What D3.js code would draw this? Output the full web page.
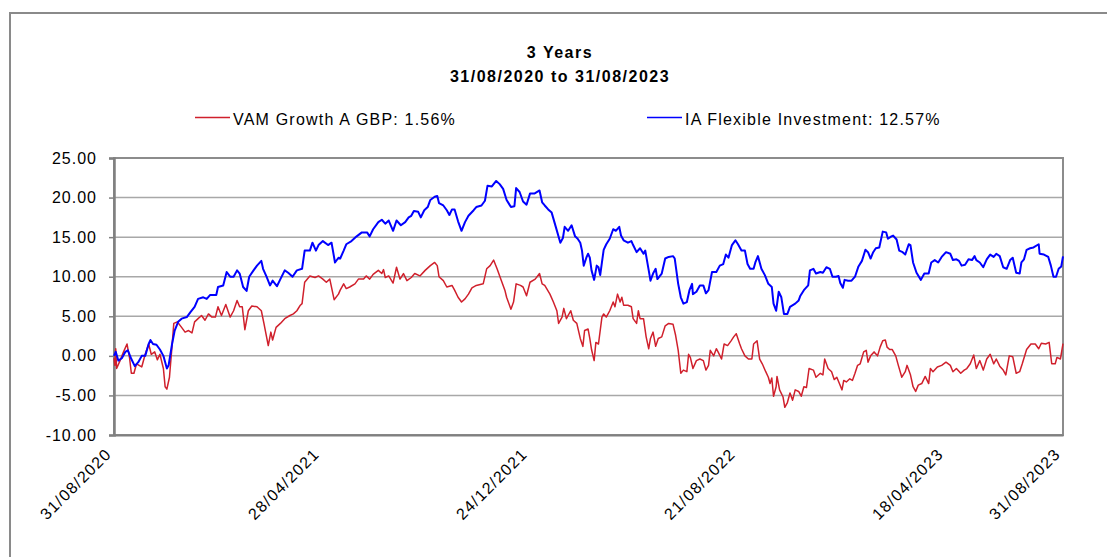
<!DOCTYPE html>
<html>
<head>
<meta charset="utf-8">
<script src="https://cdn.jsdelivr.net/npm/d3@7"></script>
<style>
  html, body { margin: 0; padding: 0; background: #fff; }
  svg { display: block; font-family: "Liberation Sans", Arial, sans-serif; }
</style>
</head>
<body>
<svg id="chart" width="1107" height="557"></svg>
<script>
// ---------------- DATA ----------------
const titleLines = ["3 Years", "31/08/2020 to 31/08/2023"];
const startDate = "31/08/2020";
const endDate = "31/08/2023";
const seriesNames = ["VAM Growth A GBP: 1.56%", "IA Flexible Investment: 12.57%"];
const seriesColors = ["#d0202c", "#0000ff"];
const xTickLabels = ["31/08/2020", "28/04/2021", "24/12/2021", "21/08/2022", "18/04/2023", "31/08/2023"];
const yTicks = [-10, -5, 0, 5, 10, 15, 20, 25];

// [days since 31/08/2020, cumulative return %]
const vamGrowth = [
  [0,-0.3],[1,-1.2],[2,0.9],[3,-1.6],[7,-0.6],[11,0.5],[15,1.5],[18,-0.3],[20,-2.2],[23,-2.2],[26,-1.0],[32,-1.4],
  [36,0.2],[40,1.5],[43,0.2],[47,0.5],[50,-0.5],[53,0.2],[57,-1.6],[59,-3.9],[61,-4.2],[64,-2.7],[67,1.3],[69,4.1],
  [73,4.3],[78,3.6],[82,3.0],[86,3.2],[90,2.9],[93,4.3],[97,4.7],[101,5.1],[105,4.5],[109,5.3],[113,4.9],[117,4.9],
  [120,6.2],[124,5.1],[129,6.5],[134,4.9],[138,5.7],[142,7.0],[145,6.2],[148,6.2],[151,3.3],[155,5.7],[159,6.3],
  [165,6.2],[170,5.7],[173,4.1],[178,1.3],[181,3.0],[183,2.0],[187,3.6],[192,4.1],[197,4.7],[203,5.1],[207,5.3],
  [211,5.7],[215,6.4],[217,6.6],[220,9.3],[226,10.1],[232,9.9],[236,10.1],[241,9.7],[245,9.3],[249,9.7],[254,7.1],
  [259,7.8],[261,8.3],[265,9.1],[268,8.5],[272,8.7],[278,9.1],[282,9.7],[288,9.7],[291,10.1],[295,9.7],[299,10.3],
  [305,10.8],[309,10.4],[311,10.9],[313,9.9],[317,10.1],[322,9.2],[326,11.2],[330,9.7],[334,10.4],[338,9.5],
  [343,9.9],[347,10.4],[353,10.1],[359,10.8],[365,11.4],[370,11.8],[373,11.4],[375,10.0],[380,9.5],[384,8.7],
  [390,8.9],[393,8.3],[397,7.4],[401,6.8],[405,7.2],[409,7.8],[413,8.6],[418,8.9],[426,9.1],[430,11.0],[434,11.4],
  [438,12.1],[442,11.0],[447,9.5],[451,8.3],[453,7.4],[458,5.9],[461,6.8],[464,9.1],[469,8.9],[472,8.7],[476,7.6],
  [480,9.3],[486,9.7],[491,10.4],[494,9.1],[497,8.9],[503,7.8],[507,6.8],[511,5.7],[513,4.1],[517,4.9],[519,6.0],
  [522,4.7],[527,5.7],[530,4.5],[534,4.1],[538,2.2],[541,1.2],[543,3.2],[547,3.4],[549,2.2],[551,0.8],[554,-0.6],
  [556,1.7],[559,1.5],[563,4.9],[565,5.3],[568,4.9],[572,5.7],[576,6.8],[578,6.2],[581,7.8],[584,6.8],[586,7.4],
  [588,6.4],[593,6.4],[597,6.2],[599,4.7],[603,4.1],[605,5.7],[607,4.7],[611,4.7],[614,2.4],[617,0.9],[619,2.2],
  [622,3.0],[625,1.2],[628,2.2],[632,2.4],[636,3.8],[640,4.1],[645,4.0],[648,2.6],[651,0.7],[654,-2.2],[657,-1.8],
  [661,-2.0],[663,0.2],[665,-0.2],[668,-1.6],[672,-0.6],[676,-0.4],[680,-0.6],[683,-1.8],[686,-1.2],[688,0.7],
  [692,0.0],[695,0.9],[697,0.5],[701,-0.4],[704,1.5],[708,1.3],[712,1.9],[715,2.4],[718,2.8],[722,1.5],[724,0.9],
  [728,0.0],[732,-0.4],[736,-0.4],[738,1.5],[742,1.9],[745,-0.4],[748,-1.0],[752,-2.0],[755,-2.7],[757,-3.5],
  [759,-2.8],[761,-5.1],[764,-3.9],[765,-2.6],[768,-4.3],[772,-5.2],[774,-6.5],[777,-5.9],[780,-4.7],[783,-5.6],
  [786,-4.3],[790,-4.5],[793,-5.1],[796,-3.9],[799,-4.0],[802,-1.6],[807,-1.8],[810,-2.7],[815,-2.2],[818,-2.4],
  [820,-0.4],[824,-1.6],[828,-2.0],[831,-3.0],[834,-2.7],[837,-3.5],[840,-4.3],[842,-3.1],[845,-3.3],[849,-2.9],
  [852,-3.1],[855,-2.2],[858,-1.2],[861,-1.0],[865,0.5],[868,0.7],[870,-0.8],[873,0.0],[877,0.5],[881,0.0],
  [884,1.1],[887,1.9],[890,2.0],[892,1.1],[895,0.8],[898,0.8],[902,0.0],[905,-1.2],[909,-2.7],[913,-2.0],
  [915,-1.2],[919,-2.4],[922,-3.9],[925,-4.5],[928,-3.7],[932,-3.5],[936,-2.6],[940,-3.5],[942,-1.6],[945,-2.0],
  [950,-1.4],[955,-1.2],[960,-0.8],[965,-1.2],[968,-2.0],[972,-1.6],[977,-2.2],[981,-1.8],[984,-1.6],[988,-1.0],
  [992,0.1],[995,-1.6],[999,-0.6],[1003,-1.8],[1007,-0.4],[1011,0.2],[1015,-1.0],[1018,-0.4],[1022,-1.3],
  [1026,-1.8],[1029,-2.4],[1033,0.0],[1037,-0.1],[1041,-2.2],[1045,-2.0],[1048,-1.0],[1053,0.8],[1058,1.5],
  [1063,1.5],[1067,0.9],[1070,1.6],[1075,1.5],[1079,1.7],[1082,-1.0],[1086,-1.0],[1088,-0.2],[1092,-0.4],[1095,1.56]
];

const iaFlexible = [
  [0,0.0],[2,0.5],[5,-0.6],[9,-0.3],[13,0.5],[16,0.7],[20,-0.4],[24,-1.3],[28,-0.8],[32,0.0],[36,0.0],[40,1.5],
  [42,2.0],[45,1.5],[49,1.4],[53,0.8],[57,0.0],[61,-1.6],[63,-1.2],[67,1.5],[70,3.2],[74,4.3],[78,4.7],[84,4.9],
  [88,5.5],[93,6.2],[97,7.2],[103,7.4],[107,7.2],[111,7.7],[118,7.7],[120,8.7],[126,8.9],[130,10.6],[134,10.0],
  [138,10.0],[142,10.8],[145,10.4],[149,8.7],[153,8.2],[156,10.0],[161,10.8],[165,11.4],[170,12.0],[172,11.0],
  [176,10.0],[180,8.9],[183,9.5],[188,8.8],[192,9.7],[197,10.8],[201,10.5],[206,10.0],[211,10.8],[217,11.0],
  [220,13.3],[226,13.3],[229,14.3],[233,13.3],[236,14.0],[241,14.5],[247,14.0],[251,14.3],[255,11.8],[259,12.4],
  [261,12.3],[265,13.3],[268,14.1],[274,14.5],[280,15.1],[286,15.6],[292,15.6],[295,15.1],[299,16.0],[305,16.9],
  [309,17.2],[313,16.7],[317,17.1],[322,15.8],[326,17.1],[331,16.5],[336,16.9],[340,17.5],[343,17.7],[346,18.3],
  [351,18.2],[354,17.5],[358,18.4],[362,18.8],[365,19.7],[370,20.1],[373,20.2],[375,19.3],[380,19.0],[384,18.4],
  [387,17.8],[390,18.5],[393,18.5],[397,17.0],[401,15.8],[405,16.9],[409,17.7],[415,18.4],[418,18.8],[424,19.0],
  [428,19.6],[431,21.5],[436,21.4],[441,22.1],[445,21.7],[449,21.1],[453,19.7],[458,18.8],[462,18.9],[464,21.2],
  [468,20.7],[472,19.5],[476,19.1],[480,20.5],[485,20.5],[491,20.9],[494,19.4],[497,19.0],[501,18.5],[505,18.1],
  [510,16.2],[515,14.3],[518,14.9],[520,16.3],[524,15.8],[528,16.5],[532,15.1],[535,14.8],[538,14.3],[540,13.3],
  [542,11.4],[545,12.4],[547,12.9],[549,12.4],[551,10.8],[554,9.6],[557,11.4],[559,11.2],[561,10.2],[563,11.8],
  [565,13.4],[568,14.1],[572,14.8],[576,16.0],[579,15.8],[583,16.3],[585,15.2],[588,14.6],[593,14.3],[597,14.5],
  [599,14.0],[603,13.1],[607,13.6],[611,12.9],[613,13.3],[617,10.8],[619,9.5],[622,10.4],[625,11.0],[627,9.7],
  [632,10.4],[636,12.3],[640,12.5],[645,12.6],[647,12.3],[651,9.1],[654,7.4],[657,6.6],[661,6.8],[664,8.3],
  [667,9.1],[668,7.8],[672,8.1],[676,8.9],[680,8.9],[683,7.9],[686,8.3],[690,10.6],[695,10.6],[699,11.4],
  [703,11.6],[706,12.8],[709,12.4],[713,14.0],[717,14.6],[720,14.1],[724,13.3],[728,13.3],[731,11.6],[734,11.0],
  [738,11.0],[740,11.8],[743,12.6],[747,11.0],[751,10.2],[755,9.1],[759,8.7],[761,6.6],[764,5.7],[767,8.1],
  [770,7.4],[773,5.3],[777,5.3],[780,6.2],[786,6.6],[790,7.0],[792,7.6],[796,8.3],[801,8.9],[803,10.8],
  [807,11.0],[810,10.4],[815,10.6],[818,10.5],[822,11.2],[826,11.0],[829,10.0],[833,10.0],[836,10.1],[838,9.2],
  [841,8.6],[843,9.6],[847,9.5],[851,9.5],[855,10.0],[859,11.3],[863,12.0],[867,13.4],[870,13.1],[873,12.3],
  [876,13.1],[879,13.6],[883,13.7],[887,15.7],[891,15.6],[893,14.8],[897,15.1],[899,15.2],[903,14.7],[906,13.3],
  [910,13.1],[913,12.8],[917,14.1],[919,14.0],[922,11.8],[926,10.5],[931,9.6],[935,10.4],[940,10.4],[943,11.8],
  [947,12.1],[951,11.8],[955,12.5],[960,13.1],[965,12.9],[968,12.1],[972,12.2],[975,12.0],[978,11.4],[982,11.5],
  [986,12.2],[990,12.1],[993,12.6],[995,12.1],[999,11.8],[1003,11.2],[1007,12.2],[1011,12.8],[1015,12.5],
  [1018,12.9],[1022,12.6],[1026,11.2],[1030,11.0],[1034,12.1],[1037,12.4],[1041,10.5],[1045,10.4],[1047,11.8],
  [1050,12.2],[1053,13.4],[1057,13.6],[1061,13.7],[1067,14.1],[1068,12.9],[1073,12.8],[1078,12.5],[1081,11.4],
  [1084,10.0],[1087,10.0],[1090,11.0],[1093,11.3],[1095,12.57]
];

// ---------------- DRAW ----------------
const parse = d3.timeParse("%d/%m/%Y");
const t0 = parse(startDate), t1 = parse(endDate);
const toPoints = arr => arr.map(([d, v]) => ({ date: d3.timeDay.offset(t0, d), value: v }));
const series = [toPoints(vamGrowth), toPoints(iaFlexible)];

const svg = d3.select("#chart");
const plot = { left: 114, right: 1063, top: 158, bottom: 435 };

// outer frame
svg.append("path")
  .attr("d", `M10,${557} V13 H1107`)
  .attr("fill", "none").attr("stroke", "#8a8a8a").attr("stroke-width", 2);

const x = d3.scaleTime().domain([t0, t1]).range([plot.left, plot.right]);
const y = d3.scaleLinear().domain([d3.min(yTicks), d3.max(yTicks)]).range([plot.bottom, plot.top]);

// gridlines
svg.append("g").selectAll("line").data(yTicks.filter(v => v !== d3.min(yTicks)))
  .join("line")
  .attr("x1", plot.left).attr("x2", plot.right)
  .attr("y1", d => y(d)).attr("y2", d => y(d))
  .attr("stroke", "#a8a8a8").attr("stroke-width", 1.5);

// plot border
svg.append("rect")
  .attr("x", plot.left).attr("y", plot.top)
  .attr("width", plot.right - plot.left).attr("height", plot.bottom - plot.top)
  .attr("fill", "none").attr("stroke", "#8c8c8c").attr("stroke-width", 2);

// y axis
const yFmt = d => d.toFixed(2);
const yAxis = svg.append("g").attr("transform", `translate(${plot.left},0)`)
  .call(d3.axisLeft(y).tickValues(yTicks).tickFormat(yFmt).tickSize(5).tickPadding(12));
yAxis.select(".domain").attr("stroke", "#808080").attr("stroke-width", 2.5);
yAxis.selectAll(".tick line").attr("stroke", "#808080").attr("stroke-width", 1.5);
yAxis.selectAll(".tick text")
  .attr("fill", "#000").style("font-size", "16px").style("letter-spacing", "1px")
  .attr("font-family", "Liberation Sans, Arial, sans-serif");

// x axis
const xAxis = svg.append("g").attr("transform", `translate(0,${plot.bottom})`)
  .call(d3.axisBottom(x).tickValues(xTickLabels.map(parse)).tickFormat(d3.timeFormat("%d/%m/%Y")).tickSize(0));
xAxis.select(".domain").attr("stroke", "#808080").attr("stroke-width", 2);
xAxis.selectAll(".tick text")
  .attr("fill", "#000").style("font-size", "16px").style("letter-spacing", "1.3px")
  .attr("font-family", "Liberation Sans, Arial, sans-serif")
  .attr("text-anchor", "end")
  .attr("x", 0).attr("y", 0).attr("dy", 0)
  .attr("transform", "translate(-2,20) rotate(-45)");

// lines
const line = d3.line().x(d => x(d.date)).y(d => y(d.value));
svg.append("g").selectAll("path").data(series).join("path")
  .attr("d", line)
  .attr("fill", "none")
  .attr("stroke", (d, i) => seriesColors[i])
  .attr("stroke-width", (d, i) => i === 0 ? 1.5 : 2)
  .attr("stroke-linejoin", "round");

// title
svg.append("g").selectAll("text").data(titleLines).join("text")
  .attr("x", 560).attr("y", (d, i) => 58 + i * 23.5)
  .attr("text-anchor", "middle")
  .style("font-size", "16px").style("font-weight", "bold").style("letter-spacing", "1.5px")
  .text(d => d);

// legend
const legendPos = [{ x: 195, tx: 233 }, { x: 647, tx: 685 }];
const lg = svg.append("g").selectAll("g").data(seriesNames).join("g");
lg.append("line")
  .attr("x1", (d, i) => legendPos[i].x).attr("x2", (d, i) => legendPos[i].x + 35)
  .attr("y1", 117.5).attr("y2", 117.5)
  .attr("stroke", (d, i) => seriesColors[i]).attr("stroke-width", 1.5);
lg.append("text")
  .attr("x", (d, i) => legendPos[i].tx).attr("y", 125)
  .style("font-size", "16px").style("letter-spacing", "1.2px")
  .text(d => d);
</script>
</body>
</html>
